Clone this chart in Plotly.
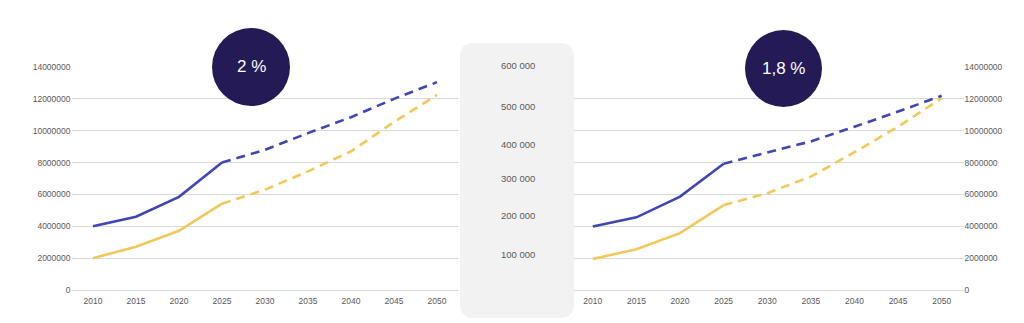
import plotly.graph_objects as go

# Years on the horizontal axis
years = [2010, 2015, 2020, 2025, 2030, 2035, 2040, 2045, 2050]
hist_years = years[:4]
proj_years = years[3:]

# Left panel (2 % growth scenario)
left_blue = [4000000, 4600000, 5850000, 8000000, 8800000, 9850000, 10850000, 12000000, 13050000]
left_yellow = [2000000, 2720000, 3720000, 5420000, 6300000, 7450000, 8700000, 10550000, 12250000]

# Right panel (1,8 % growth scenario)
right_blue = [3980000, 4560000, 5860000, 7930000, 8620000, 9330000, 10250000, 11200000, 12200000]
right_yellow = [1950000, 2560000, 3570000, 5330000, 6080000, 7120000, 8650000, 10250000, 12050000]

y_ticks = [0, 2000000, 4000000, 6000000, 8000000, 10000000, 12000000, 14000000]
mid_labels = ["600 000", "500 000", "400 000", "300 000", "200 000", "100 000"]
rates = ["2 %", "1,8 %"]

BLUE = "#4146b5"
YELLOW = "#f2c85a"
NAVY = "#241a56"
GRID = "#d9d9d9"
TICK = "#595959"
FONT = "Liberation Sans"

W, H = 1024, 323


def px_x(v):
    return v / W


def px_y(v):
    return 1 - v / H


fig = go.Figure()


def add_series(vals, color, xa, ya):
    fig.add_trace(go.Scatter(
        x=hist_years, y=vals[:4], mode="lines", xaxis=xa, yaxis=ya,
        line=dict(color=color, width=2.6), showlegend=False, hoverinfo="skip"))
    fig.add_trace(go.Scatter(
        x=proj_years, y=vals[3:], mode="lines", xaxis=xa, yaxis=ya,
        line=dict(color=color, width=2.6, dash="9px,6px"), showlegend=False, hoverinfo="skip"))


add_series(left_yellow, YELLOW, "x", "y")
add_series(left_blue, BLUE, "x", "y")
add_series(right_yellow, YELLOW, "x2", "y2")
add_series(right_blue, BLUE, "x2", "y2")

tick_font = dict(family=FONT, size=8.5, color=TICK)
y_dom = [px_y(290), px_y(67)]

xcommon = dict(range=[2007.5, 2052.5], tickvals=years, ticktext=[str(y) for y in years],
               showgrid=False, zeroline=False, showline=True, linecolor=GRID, linewidth=1,
               ticks="", tickfont=tick_font, fixedrange=True, automargin=False,
               ticklabelstandoff=3)
ycommon = dict(range=[0, 14000000], tickvals=y_ticks, ticktext=[str(v) for v in y_ticks],
               showgrid=True, gridcolor=GRID, gridwidth=1, zeroline=False, showline=False,
               ticks="", tickfont=tick_font, domain=y_dom, fixedrange=True, automargin=False)

fig.update_layout(
    width=W, height=H,
    margin=dict(l=0, r=0, t=0, b=0, pad=0, autoexpand=False),
    paper_bgcolor="white", plot_bgcolor="white",
    xaxis=dict(domain=[px_x(71.5), px_x(458.5)], anchor="y", **xcommon),
    yaxis=dict(anchor="x", side="left", **ycommon),
    xaxis2=dict(domain=[px_x(571), px_x(963.5)], anchor="y2", **xcommon),
    yaxis2=dict(anchor="x2", side="right", **ycommon),
)

# Rounded grey panel between the two charts
x0, x1, y0, y1, r = 460, 574, 43, 318, 14
pts = [
    f"M {px_x(x0 + r)},{px_y(y0)}",
    f"L {px_x(x1 - r)},{px_y(y0)}",
    f"Q {px_x(x1)},{px_y(y0)} {px_x(x1)},{px_y(y0 + r)}",
    f"L {px_x(x1)},{px_y(y1 - r)}",
    f"Q {px_x(x1)},{px_y(y1)} {px_x(x1 - r)},{px_y(y1)}",
    f"L {px_x(x0 + r)},{px_y(y1)}",
    f"Q {px_x(x0)},{px_y(y1)} {px_x(x0)},{px_y(y1 - r)}",
    f"L {px_x(x0)},{px_y(y0 + r)}",
    f"Q {px_x(x0)},{px_y(y0)} {px_x(x0 + r)},{px_y(y0)}",
    "Z",
]
fig.add_shape(type="path", path=" ".join(pts), xref="paper", yref="paper",
              fillcolor="#f2f2f2", line=dict(width=0), layer="above")

mid_y = [65, 106, 144, 178, 216, 254]
for label, yy in zip(mid_labels, mid_y):
    fig.add_annotation(x=px_x(517.5), y=px_y(yy), xref="paper", yref="paper",
                       text=label, showarrow=False, xanchor="center", yanchor="middle",
                       font=dict(family=FONT, size=9.5, color=TICK))

# Growth-rate badges
for (cx, cy, rad), txt in zip([(251, 67, 39), (783.5, 68.5, 38.5)], rates):
    fig.add_shape(type="circle", xref="paper", yref="paper",
                  x0=px_x(cx - rad), x1=px_x(cx + rad), y0=px_y(cy + rad), y1=px_y(cy - rad),
                  fillcolor=NAVY, line=dict(width=0), layer="above")
    fig.add_annotation(x=px_x(cx), y=px_y(cy), xref="paper", yref="paper", text=txt,
                       showarrow=False, xanchor="center", yanchor="middle",
                       font=dict(family=FONT, size=17, color="white"))

fig.write_html("out.html")
